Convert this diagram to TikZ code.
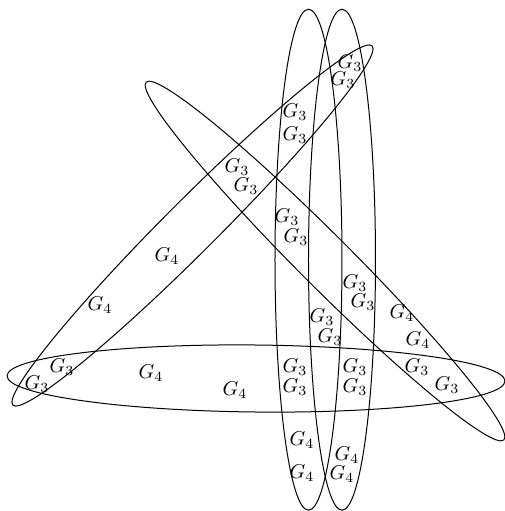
\documentclass[tikz,border=0pt]{standalone}
\begin{document}
\begin{tikzpicture}[x=0.5pt,y=-0.5pt,line width=0.5pt,
  lbl/.style={inner sep=0pt,font=\normalsize}]
\useasboundingbox (0,0) rectangle (505,511);
% vertical ellipses
\draw (308.5,259.7) ellipse [x radius=33.5, y radius=250.5];
\draw (342,259.7) ellipse [x radius=33.5, y radius=250.5];
% horizontal ellipse
\draw[rotate around={-0.6:(256,378.5)}] (256,378.5) ellipse [x radius=249, y radius=33.5];
% diagonal ellipses
\draw[rotate around={45:(192.5,225.5)}] (192.5,225.5) ellipse [x radius=254, y radius=26];
\draw[rotate around={-45:(325,261)}] (325,261) ellipse [x radius=253, y radius=26];
% labels
\node[lbl] (l1) at (350,63) {$G_3$};
\node[lbl] (l2) at (343,80) {$G_3$};
\node[lbl] (l3) at (295,112) {$G_3$};
\node[lbl] (l4) at (295,135) {$G_3$};
\node[lbl] (l5) at (237,167) {$G_3$};
\node[lbl] (l6) at (246,186) {$G_3$};
\node[lbl] (l7) at (287,217) {$G_3$};
\node[lbl] (l8) at (296,237) {$G_3$};
\node[lbl] (l9) at (167,256) {$G_4$};
\node[lbl] (l10) at (355,283) {$G_3$};
\node[lbl] (l11) at (363,302) {$G_3$};
\node[lbl] (l12) at (402,313) {$G_4$};
\node[lbl] (l13) at (100,305) {$G_4$};
\node[lbl] (l14) at (322,317) {$G_3$};
\node[lbl] (l15) at (330,337) {$G_3$};
\node[lbl] (l16) at (418,340) {$G_4$};
\node[lbl] (l17) at (62,367) {$G_3$};
\node[lbl] (l18) at (37,384) {$G_3$};
\node[lbl] (l19) at (151,373) {$G_4$};
\node[lbl] (l20) at (235,390) {$G_4$};
\node[lbl] (l21) at (295,367) {$G_3$};
\node[lbl] (l22) at (295,387) {$G_3$};
\node[lbl] (l23) at (355,367) {$G_3$};
\node[lbl] (l24) at (355,387) {$G_3$};
\node[lbl] (l25) at (417,367) {$G_3$};
\node[lbl] (l26) at (447,385) {$G_3$};
\node[lbl] (l27) at (302,440) {$G_4$};
\node[lbl] (l28) at (347,455) {$G_4$};
\node[lbl] (l29) at (302,473) {$G_4$};
\node[lbl] (l30) at (342,474) {$G_4$};
\end{tikzpicture}
\end{document}
